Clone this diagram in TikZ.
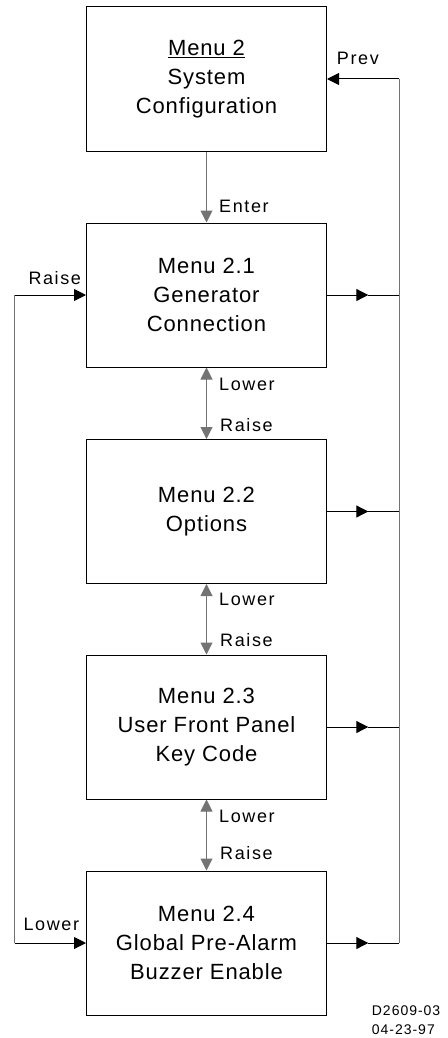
\documentclass[tikz,border=0pt]{standalone}
\usepackage{fontspec}
\setmainfont{Liberation Sans}
\newfontfamily\boxfont{Liberation Sans}[LetterSpace=4]
\newfontfamily\lblfont{Liberation Sans}[LetterSpace=9]
\newfontfamily\tagfont{Liberation Sans}[LetterSpace=7]
\usetikzlibrary{arrows.meta}
\begin{document}
\begin{tikzpicture}[x=1pt,y=-1pt,
  menubox/.style={draw=black, line width=1pt, minimum width=240pt, minimum height=144pt, inner sep=0pt, align=center, font=\boxfont\fontsize{22}{28.7}\selectfont},
  lbl/.style={anchor=base west, inner sep=0pt, font=\lblfont\fontsize{18}{20}\selectfont},
  tag/.style={anchor=base west, inner sep=0pt, font=\tagfont\fontsize{14}{16}\selectfont},
  arr/.style={line width=1pt, -{Triangle[length=12pt,width=12pt]}},
  darr/.style={line width=1pt, {Triangle[length=12pt,width=12pt]}-{Triangle[length=12pt,width=12pt]}},
  gline/.style={line width=1pt, draw=black!55}
]
\useasboundingbox (0,0) rectangle (447,1038);

\node[menubox] (b1) at (206.5,79) {\underline{Menu 2}\\System\\Configuration};
\node[menubox] (b2) at (206.5,295) {Menu 2.1\\Generator\\Connection};
\node[menubox] (b3) at (206.5,511.5) {Menu 2.2\\Options};
\node[menubox] (b4) at (206.5,727) {Menu 2.3\\User Front Panel\\Key Code};
\node[menubox] (b5) at (206.5,943) {Menu 2.4\\Global Pre-Alarm\\Buzzer Enable};

% right-side return path
\coordinate (r1) at (399,79);
\coordinate (r2) at (399,295);
\coordinate (r3) at (399,511.5);
\coordinate (r4) at (399,727);
\coordinate (r5) at (399,943);
\coordinate (t2) at (368.3,295);
\coordinate (t3) at (368.3,511.5);
\coordinate (t4) at (368.3,727);
\coordinate (t5) at (368.3,943);
\draw[gline] (r5) -- (r1);
\draw[arr] (r1) -- (b1.east);
\foreach \i in {2,3,4,5}{
  \draw[arr] (b\i.east) -- (t\i);
  \draw[line width=1pt] (t\i) -- (r\i);
}

% left wrap path
\coordinate (l2) at (14.7,295);
\coordinate (l5) at (14.7,943);
\draw[gline] (l2) -- (l5);
\draw[arr] (l2) -- (b2.west);
\draw[arr] (l5) -- (b5.west);

% vertical links
\draw[arr, draw=black!55] (b1.south) -- (b2.north);
\draw[darr, draw=black!55] (b2.south) -- (b3.north);
\draw[darr, draw=black!55] (b3.south) -- (b4.north);
\draw[darr, draw=black!55] (b4.south) -- (b5.north);

% labels
\node[lbl] (prev) at (336.7,65) {Prev};
\node[lbl] (enter) at (219,212) {Enter};
\node[lbl] (raiseL) at (28.3,284) {Raise};
\node[lbl] (lowerL) at (23.3,930) {Lower};
\node[lbl] (low23) at (219,390.7) {Lower};
\node[lbl] (rai23) at (220,431) {Raise};
\node[lbl] (low34) at (219,605.7) {Lower};
\node[lbl] (rai34) at (220,646.7) {Raise};
\node[lbl] (low45) at (219,822.3) {Lower};
\node[lbl] (rai45) at (220,859.3) {Raise};

\node[tag] (code) at (371.7,1015) {D2609-03};
\node[tag] (date) at (371.7,1034) {04-23-97};
\end{tikzpicture}
\end{document}
